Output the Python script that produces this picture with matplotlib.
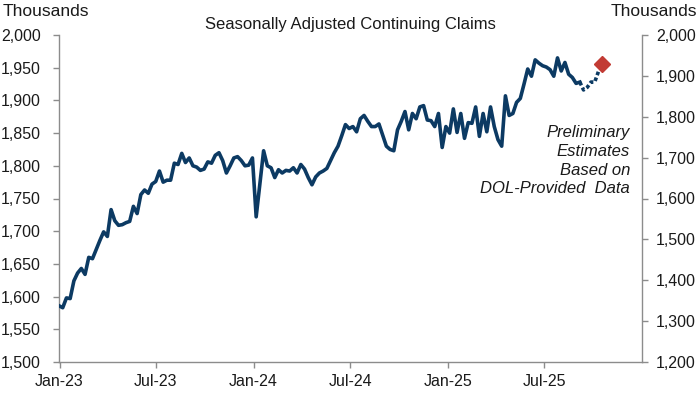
import matplotlib
matplotlib.use("Agg")
import matplotlib.pyplot as plt
import matplotlib.dates as mdates
from matplotlib.ticker import FuncFormatter, MultipleLocator, FixedLocator
import pandas as pd

plt.rcParams['font.family'] = ['Liberation Sans', 'DejaVu Sans']

# Weekly continuing claims (thousands), weeks ending Saturday from 2022-12-31
claims = [
    1586, 1583, 1598, 1597, 1624, 1636, 1643, 1634, 1660, 1658,
    1672, 1686, 1699, 1692, 1733, 1716, 1709, 1710, 1713, 1715,
    1738, 1727, 1756, 1763, 1758, 1772, 1776, 1792, 1775, 1778,
    1778, 1804, 1802, 1819, 1805, 1812, 1800, 1798, 1793, 1795,
    1806, 1804, 1816, 1820, 1808, 1789, 1800, 1812, 1814, 1808,
    1800, 1801, 1812, 1722, 1772, 1823, 1800, 1797, 1782, 1794,
    1789, 1793, 1792, 1797, 1789, 1802, 1795, 1782, 1771, 1783,
    1789, 1792, 1796, 1808, 1820, 1830, 1846, 1863, 1857, 1860,
    1852, 1872, 1877, 1868, 1860, 1860, 1864, 1847, 1830, 1825,
    1823, 1855, 1868, 1883, 1855, 1880, 1872, 1890, 1892, 1870,
    1869, 1860, 1880, 1828, 1860, 1850, 1887, 1851, 1880, 1842,
    1866, 1865, 1890, 1845, 1880, 1852, 1890, 1860, 1840, 1830,
    1907, 1877, 1880, 1897, 1903, 1925, 1948, 1937, 1962, 1957,
    1953, 1951, 1947, 1937, 1965, 1945, 1958, 1940, 1935, 1926,
    1928,
]
# Preliminary estimates (dotted), continuing from the last reported week
prelim = [1928, 1916, 1920, 1928, 1928, 1944]
# Latest estimate (diamond)
latest = [1956]

tick_labels = ["Jan-23", "Jul-23", "Jan-24", "Jul-24", "Jan-25", "Jul-25"]
tick_dates = ["2023-01-01", "2023-07-01", "2024-01-01", "2024-07-01", "2025-01-01", "2025-07-01"]

start = pd.Timestamp("2022-12-31")
dates = pd.date_range(start, periods=len(claims), freq="7D")
prelim_dates = pd.date_range(dates[-1], periods=len(prelim), freq="7D")
latest_dates = pd.date_range(prelim_dates[-1] + pd.Timedelta(days=7), periods=len(latest), freq="7D")

navy = "#0c3a63"
red = "#c23b34"
gray = "#8c8c8c"
txt = "#1a1a1a"

fig = plt.figure(figsize=(7.0, 3.94), dpi=100)
ax = fig.add_axes([59/700, 1-362/394, (642-59)/700, (362-35)/394])

ax.plot(dates, claims, color=navy, lw=2.6, solid_joinstyle="round", zorder=3)
ax.plot(prelim_dates, prelim, color=navy, lw=2.6, linestyle=(0, (1.0, 0.7)), zorder=3)
ax.plot(latest_dates, latest, marker="D", color=red, markersize=8, linestyle="none", zorder=4)

ax.set_xlim(pd.Timestamp("2022-12-31"), pd.Timestamp("2026-01-01"))
ax.set_ylim(1500, 2000)
ax.yaxis.set_major_locator(MultipleLocator(50))
ax.yaxis.set_major_formatter(FuncFormatter(lambda v, p: f"{int(v):,}"))
ax.set_xticks([mdates.date2num(pd.Timestamp(d)) for d in tick_dates])
ax.set_xticklabels(tick_labels)

ax2 = ax.twinx()
ax2.set_ylim(1200, 2000)
ax2.yaxis.set_major_locator(MultipleLocator(100))
ax2.yaxis.set_major_formatter(FuncFormatter(lambda v, p: f"{int(v):,}"))

for a in (ax, ax2):
    a.spines["top"].set_visible(False)
    for s in ("left", "right", "bottom"):
        a.spines[s].set_color(gray)
        a.spines[s].set_linewidth(1.0)
    a.tick_params(colors=gray, labelcolor=txt, labelsize=11.5, length=4, width=1.0, direction="out")
ax.spines["right"].set_visible(False)
ax2.spines["left"].set_visible(False)
ax2.spines["bottom"].set_visible(False)
ax.tick_params(axis="y", pad=9)
ax2.tick_params(axis="y", pad=6)
ax.tick_params(axis="x", pad=5)

fig.text(3/700, 1-12/394, "Thousands", fontsize=12.5, ha="left", va="center", color=txt)
fig.text(697/700, 1-12/394, "Thousands", fontsize=12.5, ha="right", va="center", color=txt)
fig.text(350/700, 1-25/394, "Seasonally Adjusted Continuing Claims", fontsize=12,
         ha="center", va="center", color=txt)

notes = ["Preliminary", "Estimates", "Based on", "DOL-Provided  Data"]
for i, line in enumerate(notes):
    fig.text(630/700, 1-(132 + 19*i)/394, line, fontsize=12, style="italic",
             ha="right", va="center", color=txt)

fig.savefig("out.png", dpi=100)
